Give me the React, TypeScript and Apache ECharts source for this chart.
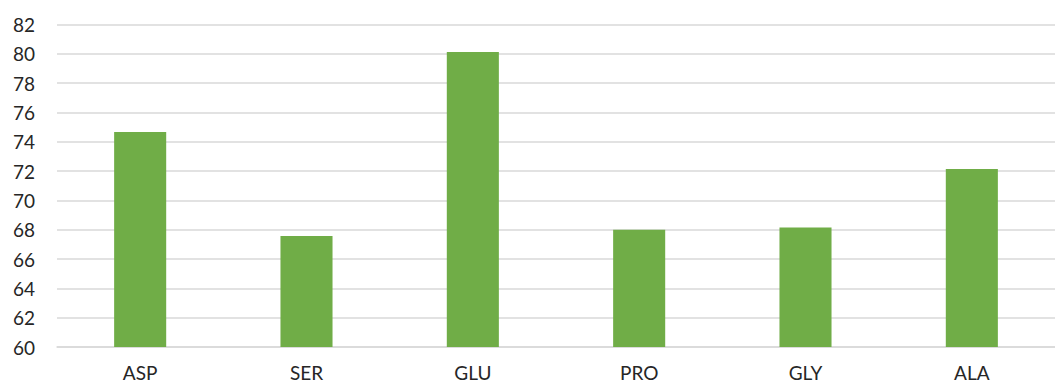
import React, { useEffect, useRef } from "react";
import * as echarts from "echarts";

const categories = ["ASP", "SER", "GLU", "PRO", "GLY", "ALA"];
const values = [74.67, 67.58, 80.13, 68.0, 68.15, 72.14];
const yMin = 60;
const yMax = 82;
const yInterval = 2;

export default function App() {
  const ref = useRef<HTMLDivElement>(null);
  useEffect(() => {
    document.body.style.margin = "0";
    const chart = echarts.init(ref.current!, null, { renderer: "svg" });
    chart.setOption({
      animation: false,
      backgroundColor: "#ffffff",
      grid: { left: 57, right: 0, top: 24.5, bottom: 42 },
      xAxis: {
        type: "category",
        data: categories,
        axisLine: { show: true, lineStyle: { color: "#D9D9D9", width: 1.5 } },
        axisTick: { show: false },
        axisLabel: { color: "#262626", fontFamily: "Lato", fontSize: 19, margin: 16 },
      },
      yAxis: {
        type: "value",
        min: yMin,
        max: yMax,
        interval: yInterval,
        axisLine: { show: false },
        axisTick: { show: false },
        splitLine: { lineStyle: { color: "#D9D9D9", width: 1.5 } },
        axisLabel: { color: "#262626", fontFamily: "Lato", fontSize: 19, margin: 22 },
      },
      series: [
        {
          type: "bar",
          data: values,
          barWidth: "31.3%",
          itemStyle: { color: "#70AD47" },
        },
      ],
    });
    return () => chart.dispose();
  }, []);
  return <div ref={ref} style={{ width: 1055, height: 389 }} />;
}
